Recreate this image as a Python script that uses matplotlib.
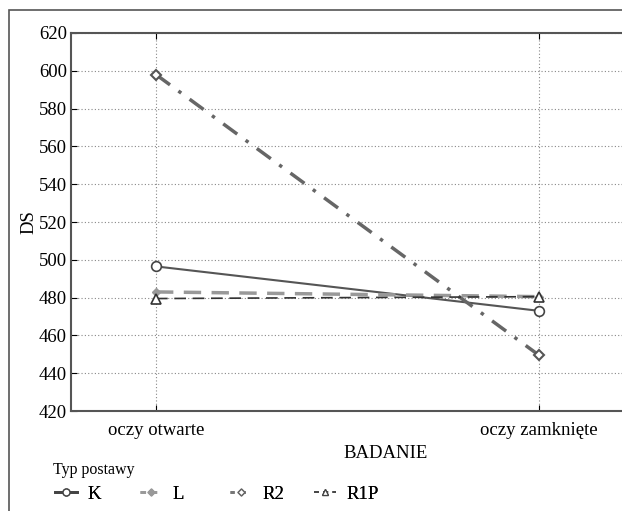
import matplotlib
matplotlib.use("Agg")
import matplotlib.pyplot as plt
from matplotlib.patches import Rectangle
from matplotlib.lines import Line2D

categories = ["oczy otwarte", "oczy zamknięte"]
K = [496.5, 473.0]
L = [483.0, 480.5]
R2 = [598.0, 449.5]
R1P = [479.5, 480.5]
yticks = [420, 440, 460, 480, 500, 520, 540, 560, 580, 600, 620]
series_names = ["K", "L", "R2", "R1P"]

plt.rcParams['font.family'] = ['Liberation Serif', 'DejaVu Serif']

fig = plt.figure(figsize=(6.22, 5.11), dpi=100)
W, H = 622, 511
fig.patches.append(Rectangle((9 / W, -0.1), 1.2, 1 - 10 / H + 0.1, transform=fig.transFigure,
                             fill=False, edgecolor='#555555', linewidth=1.2))

ax = fig.add_axes([71 / W, 1 - 411 / H, (700 - 71) / W, (411 - 33) / H])
x = list(range(len(categories)))

styles = {
    'K': dict(color='#555555', lw=1.5, ls='-', marker='o', mfc='white', mec='#444444', mew=1.2),
    'L': dict(color='#999999', lw=2.5, ls=(0, (5, 3)), marker='D', mfc='#999999', mec='#999999', mew=1.0),
    'R2': dict(color='#666666', lw=2.5, ls=(0, (5, 3, 1, 3)), marker='D', mfc='white', mec='#555555', mew=1.5),
    'R1P': dict(color='#333333', lw=1.2, ls=(0, (7, 4)), marker='^', mfc='white', mec='#333333', mew=1.2),
}
sizes = {'K': 7, 'L': 4.5, 'R2': 5, 'R1P': 7}
data = {'K': K, 'L': L, 'R2': R2, 'R1P': R1P}
for name in series_names:
    ax.plot(x, data[name], ms=sizes[name], label=name, **styles[name])

ax.set_xlim(-85 / 383, (700 - 156) / 383)
ax.set_ylim(420, 620)
ax.set_xticks(x)
ax.set_xticklabels(categories, fontsize=13.5)
ax.set_yticks(yticks)
ax.tick_params(axis='y', labelsize=13.5, direction='in', length=4, left=True, right=False, pad=3)
ax.tick_params(axis='x', direction='in', length=4, top=True, bottom=True, pad=8)
ax.grid(True, ls=(0, (1, 2)), color='#888888', lw=0.8)
for s in ax.spines.values():
    s.set_color('#555555')
    s.set_linewidth(1.5)
ax.set_xlabel('BADANIE', fontsize=13.5, labelpad=4)
ax.set_ylabel('DS', fontsize=13.5, labelpad=1)

# legend
fig.text(53 / W, 1 - 470 / H, 'Typ postawy', fontsize=11.5, ha='left', va='center')
text_x = [87, 172, 262, 346]
leg_styles = {
    'K': dict(color='#444444', lw=2.0, ls='-', marker='o', ms=5, mfc='white', mec='#444444', mew=1.0),
    'L': dict(color='#999999', lw=2.0, ls=(0, (2, 2)), marker='D', ms=3.5, mfc='#999999', mec='#999999'),
    'R2': dict(color='#777777', lw=2.0, ls=(0, (1.5, 2.5)), marker='D', ms=3.5, mfc='white', mec='#666666', mew=1.0),
    'R1P': dict(color='#444444', lw=1.2, ls=(0, (3, 2.5)), marker='^', ms=5, mfc='white', mec='#444444', mew=0.9),
}
fs_px = 13.5 * 100 / 72
for name, tx in zip(series_names, text_x):
    h = Line2D([], [], **leg_styles[name])
    lg = fig.legend(handles=[h], labels=[name], loc='center left',
                    bbox_to_anchor=((tx - 32) / W, 1 - 494 / H), frameon=False,
                    fontsize=13.5, handlelength=22 / fs_px, handletextpad=10 / fs_px,
                    borderpad=0, borderaxespad=0)
    fig.add_artist(lg)

fig.savefig('out.png', dpi=100)
